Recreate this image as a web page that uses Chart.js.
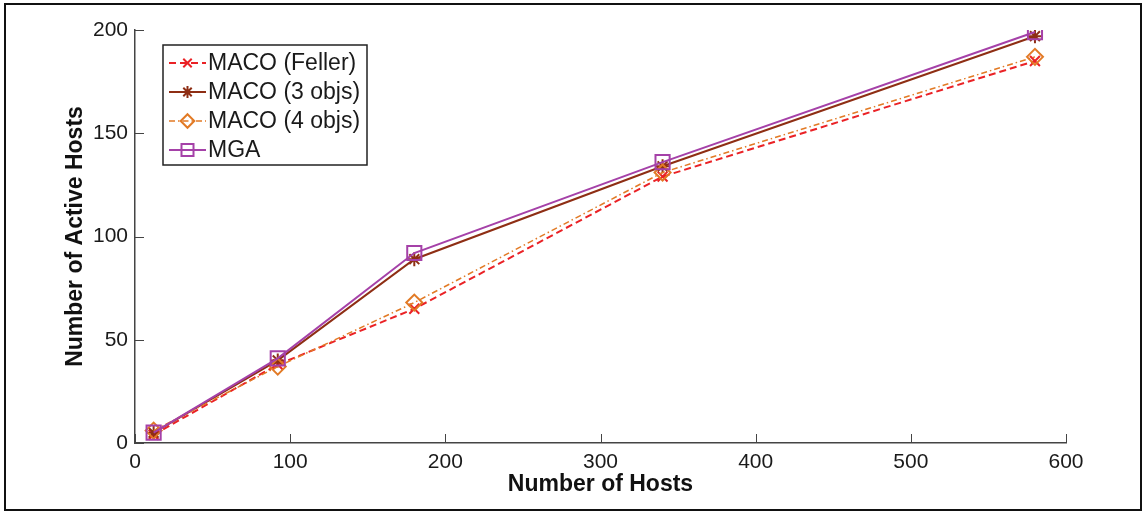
<!DOCTYPE html>
<html>
<head>
<meta charset="utf-8">
<script src="https://cdn.jsdelivr.net/npm/chart.js@4.4.1/dist/chart.umd.min.js"></script>
<style>
  html, body { margin: 0; padding: 0; background: #fff; }
  #wrap { width: 1142px; height: 512px; position: relative; }
</style>
</head>
<body>
<div id="wrap"><canvas id="c" width="1142" height="512"></canvas></div>
<script>
// ---- data ----
const hosts = [12, 92, 180, 340, 580];
const macoFeller = [4, 38, 65, 129, 185];
const maco3 = [5, 40, 89, 134, 197];
const maco4 = [6, 37, 68, 131, 187];
const mga = [5, 41, 92, 136, 199];
const seriesLabels = ['MACO (Feller)', 'MACO (3 objs)', 'MACO (4 objs)', 'MGA'];
const xTicks = [0, 100, 200, 300, 400, 500, 600];
const yTicks = [0, 50, 100, 150, 200];

const FONT = "'Liberation Sans', Arial, Helvetica, sans-serif";
const pts = arr => arr.map((v, i) => ({x: hosts[i], y: v}));

const styles = [
  {color: '#ea2226', dash: [7, 4], width: 2, point: 'crossRot', radius: 7, order: 3},
  {color: '#8e2e14', dash: [], width: 2, point: 'star', radius: 7, order: 2},
  {color: '#e27a25', dash: [6, 3, 1.5, 3], width: 1.5, point: 'rectRot', radius: 8, order: 1},
  {color: '#a541a8', dash: [], width: 2, point: 'rect', radius: 10, order: 0}
];
const seriesData = [macoFeller, maco3, maco4, mga];

const datasets = seriesData.map((d, i) => ({
  label: seriesLabels[i],
  data: pts(d),
  borderColor: styles[i].color,
  backgroundColor: 'rgba(0,0,0,0)',
  borderWidth: styles[i].width,
  borderDash: styles[i].dash,
  pointStyle: styles[i].point,
  pointRadius: styles[i].radius,
  pointBorderColor: styles[i].color,
  pointBackgroundColor: 'rgba(0,0,0,0)',
  pointBorderWidth: 2,
  pointHoverRadius: styles[i].radius,
  tension: 0,
  fill: false,
  order: styles[i].order
}));

function drawMarker(ctx, style, x, y, r) {
  ctx.beginPath();
  if (style === 'rect') {
    const s = Math.SQRT1_2 * r;
    ctx.rect(x - s, y - s, 2 * s, 2 * s);
  } else if (style === 'rectRot') {
    ctx.moveTo(x, y - r); ctx.lineTo(x + r, y); ctx.lineTo(x, y + r); ctx.lineTo(x - r, y); ctx.closePath();
  } else if (style === 'crossRot' || style === 'star') {
    const o = Math.SQRT1_2 * r;
    ctx.moveTo(x - o, y - o); ctx.lineTo(x + o, y + o);
    ctx.moveTo(x - o, y + o); ctx.lineTo(x + o, y - o);
    if (style === 'star') {
      ctx.moveTo(x - r, y); ctx.lineTo(x + r, y);
      ctx.moveTo(x, y - r); ctx.lineTo(x, y + r);
    }
  }
  ctx.stroke();
}

const framePlugin = {
  id: 'frame',
  beforeDraw(chart) {
    const ctx = chart.ctx;
    ctx.save();
    ctx.fillStyle = '#fff';
    ctx.fillRect(0, 0, chart.width, chart.height);
    ctx.strokeStyle = '#111';
    ctx.lineWidth = 2;
    ctx.strokeRect(5, 4, 1136, 506);
    ctx.restore();
  },
  afterDraw(chart) {
    const ctx = chart.ctx;
    const xs = chart.scales.x, ys = chart.scales.y;
    const area = chart.chartArea;
    ctx.save();
    // inward ticks
    ctx.strokeStyle = '#444';
    ctx.lineWidth = 1;
    ctx.beginPath();
    xTicks.forEach(v => {
      const px = Math.round(xs.getPixelForValue(v)) + 0.5;
      ctx.moveTo(px, area.bottom); ctx.lineTo(px, area.bottom - 9);
    });
    yTicks.forEach(v => {
      const py = Math.round(ys.getPixelForValue(v)) + 0.5;
      ctx.moveTo(area.left, py); ctx.lineTo(area.left + 9, py);
    });
    ctx.stroke();

    // legend
    const lx = 163, ly = 45, lw = 204, lh = 120;
    ctx.fillStyle = '#fff';
    ctx.fillRect(lx, ly, lw, lh);
    ctx.strokeStyle = '#222';
    ctx.lineWidth = 1.5;
    ctx.strokeRect(lx, ly, lw, lh);
    const rows = [63, 92, 121, 150];
    chart.data.datasets.forEach((ds, i) => {
      const y = rows[i];
      const st = styles[i];
      ctx.strokeStyle = st.color;
      ctx.lineWidth = st.width;
      ctx.setLineDash(st.dash);
      ctx.beginPath();
      ctx.moveTo(169, y); ctx.lineTo(206, y);
      ctx.stroke();
      ctx.setLineDash([]);
      ctx.lineWidth = 2;
      drawMarker(ctx, st.point, 187.5, y, st.radius * 0.85);
      ctx.fillStyle = '#1a1a1a';
      ctx.font = '23px ' + FONT;
      ctx.textBaseline = 'middle';
      ctx.textAlign = 'left';
      ctx.fillText(ds.label, 208, y + 1);
    });
    ctx.restore();
  }
};

new Chart(document.getElementById('c'), {
  type: 'line',
  data: { datasets },
  options: {
    responsive: false,
    animation: false,
    events: [],
    layout: { padding: { left: 60, right: 76, top: 30, bottom: 10 } },
    plugins: { legend: { display: false }, tooltip: { enabled: false } },
    scales: {
      x: {
        type: 'linear',
        min: 0, max: 600,
        afterFit: s => { s.height = 59; },
        afterBuildTicks: s => { s.ticks = xTicks.map(v => ({value: v})); },
        grid: { display: false, drawTicks: false },
        border: { display: true, color: '#444', width: 1.5 },
        ticks: { color: '#1a1a1a', padding: 7, font: { family: FONT, size: 21 }, maxRotation: 0 },
        title: { display: true, text: 'Number of Hosts', color: '#111',
                 font: { family: FONT, size: 23, weight: 'bold' }, padding: { top: 0, bottom: 4 } }
      },
      y: {
        type: 'linear',
        min: 0, max: 200,
        afterFit: s => { s.width = 75; },
        afterBuildTicks: s => { s.ticks = yTicks.map(v => ({value: v})); },
        grid: { display: false, drawTicks: false },
        border: { display: true, color: '#444', width: 1.5 },
        ticks: { color: '#1a1a1a', padding: 7, font: { family: FONT, size: 21 } },
        title: { display: true, text: 'Number of Active Hosts', color: '#111',
                 font: { family: FONT, size: 23, weight: 'bold' }, padding: { top: 2, bottom: 0 } }
      }
    }
  },
  plugins: [framePlugin]
});
</script>
</body>
</html>
